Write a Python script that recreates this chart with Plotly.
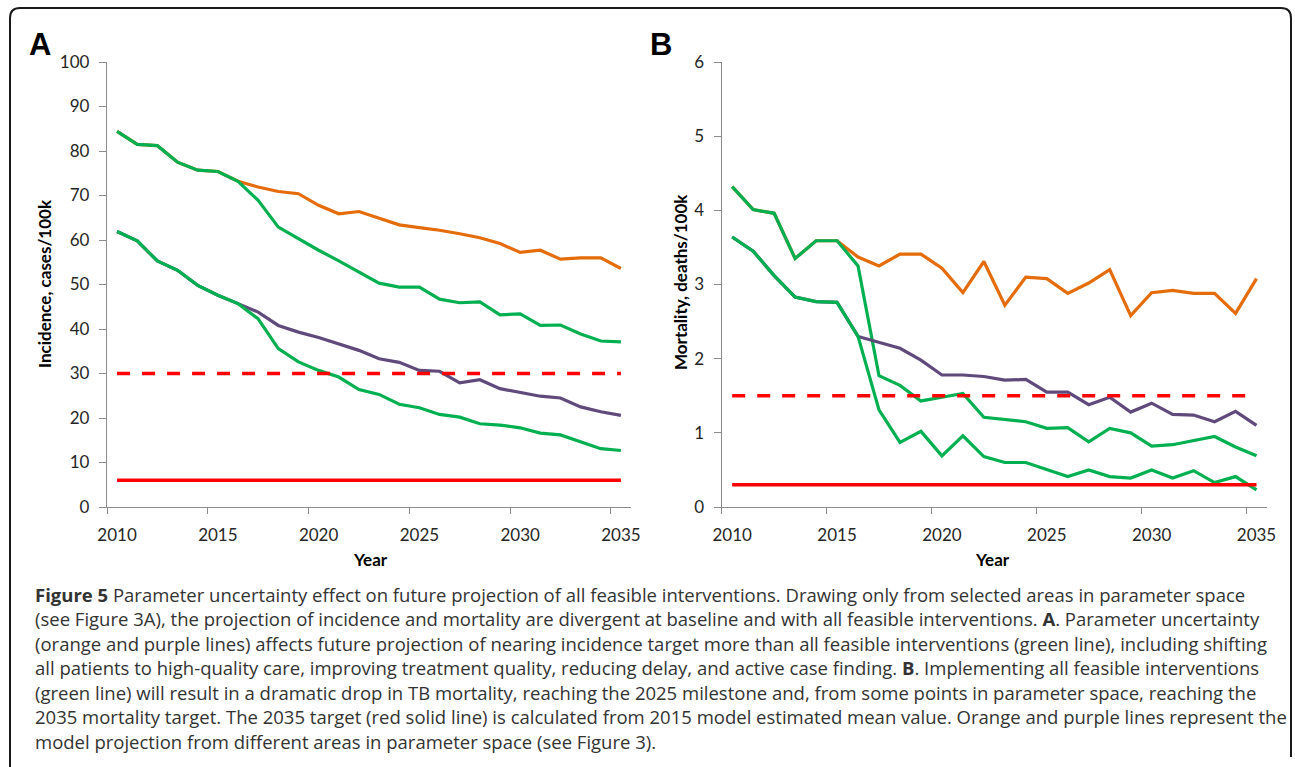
import plotly.graph_objects as go

years = list(range(2010, 2036))

# Panel A: incidence, cases/100k
inc_green_upper = [84.4, 81.5, 81.2, 77.5, 75.7, 75.4, 73.2, 68.9, 62.9, 60.2, 57.7, 55.3, 52.8, 50.3,
                   49.4, 49.4, 46.7, 45.9, 46.1, 43.2, 43.4, 40.8, 40.9, 38.9, 37.3, 37.1]
inc_orange = [84.4, 81.5, 81.2, 77.5, 75.7, 75.4, 73.2, 71.9, 70.9, 70.4, 67.8, 65.9, 66.4, 64.9,
              63.4, 62.8, 62.2, 61.4, 60.5, 59.2, 57.2, 57.7, 55.7, 56.0, 56.0, 53.6]
inc_green_lower = [61.9, 59.8, 55.3, 53.2, 49.8, 47.6, 45.7, 42.3, 35.6, 32.6, 30.7, 29.2, 26.4, 25.3,
                   23.1, 22.3, 20.8, 20.2, 18.7, 18.4, 17.8, 16.6, 16.2, 14.6, 13.1, 12.7]
inc_purple = [61.9, 59.8, 55.3, 53.2, 49.8, 47.6, 45.7, 43.8, 40.8, 39.3, 38.1, 36.7, 35.2, 33.3,
              32.5, 30.7, 30.5, 27.9, 28.6, 26.6, 25.8, 24.9, 24.5, 22.5, 21.4, 20.6]
inc_milestone_2025 = [30, 30]
inc_target_2035 = [6, 6]

# Panel B: mortality, deaths/100k
mort_green_upper = [4.32, 4.01, 3.96, 3.35, 3.59, 3.59, 3.25, 1.77, 1.64, 1.43, 1.48, 1.53, 1.21, 1.18,
                    1.15, 1.06, 1.07, 0.88, 1.06, 1.00, 0.82, 0.84, 0.89, 0.95, 0.81, 0.69]
mort_orange = [4.32, 4.01, 3.96, 3.35, 3.59, 3.59, 3.37, 3.25, 3.41, 3.41, 3.22, 2.89, 3.31, 2.72,
               3.10, 3.08, 2.88, 3.02, 3.20, 2.58, 2.89, 2.92, 2.88, 2.88, 2.61, 3.08]
mort_green_lower = [3.64, 3.45, 3.12, 2.83, 2.77, 2.76, 2.30, 1.31, 0.87, 1.02, 0.69, 0.96, 0.68, 0.60,
                    0.60, 0.51, 0.41, 0.50, 0.41, 0.39, 0.50, 0.39, 0.49, 0.33, 0.41, 0.23]
mort_purple = [3.64, 3.45, 3.12, 2.83, 2.77, 2.76, 2.30, 2.22, 2.14, 1.98, 1.78, 1.78, 1.76, 1.71,
               1.72, 1.55, 1.55, 1.38, 1.48, 1.28, 1.40, 1.25, 1.24, 1.15, 1.29, 1.10]
mort_milestone_2025 = [1.5, 1.5]
mort_target_2035 = [0.3, 0.3]
target_years = [2010, 2035]

x_tick_labels = ["2010", "2015", "2020", "2025", "2030", "2035"]
y_ticks_a = [0, 10, 20, 30, 40, 50, 60, 70, 80, 90, 100]
y_ticks_b = [0, 1, 2, 3, 4, 5, 6]

caption_lines = [
    "<b>Figure 5</b> Parameter uncertainty effect on future projection of all feasible interventions. Drawing only from selected areas in parameter space",
    "(see Figure 3A), the projection of incidence and mortality are divergent at baseline and with all feasible interventions. <b>A</b>. Parameter uncertainty",
    "(orange and purple lines) affects future projection of nearing incidence target more than all feasible interventions (green line), including shifting",
    "all patients to high-quality care, improving treatment quality, reducing delay, and active case finding. <b>B</b>. Implementing all feasible interventions",
    "(green line) will result in a dramatic drop in TB mortality, reaching the 2025 milestone and, from some points in parameter space, reaching the",
    "2035 mortality target. The 2035 target (red solid line) is calculated from 2015 model estimated mean value. Orange and purple lines represent the",
    "model projection from different areas in parameter space (see Figure 3).",
]

W, H = 1295, 767
GREEN = "#00B050"
ORANGE = "#E46C0A"
PURPLE = "#604A7B"
RED = "#FF0000"
AXIS = "#8C8C8C"
TXT = "#262626"


def px(x):
    return x / W


def py(y):
    return 1 - y / H


fig = go.Figure()


def add_panel(xa, ya, orange, green_up, purple, green_low, milestone, target):
    for vals, col in [(orange, ORANGE), (green_up, GREEN), (purple, PURPLE), (green_low, GREEN)]:
        fig.add_trace(go.Scatter(x=years, y=vals, mode="lines", xaxis=xa, yaxis=ya,
                                 line=dict(color=col, width=3.2), hoverinfo="skip", showlegend=False))
    fig.add_trace(go.Scatter(x=target_years, y=milestone, mode="lines", xaxis=xa, yaxis=ya,
                             line=dict(color=RED, width=3.5, dash="13px,12px"), showlegend=False))
    fig.add_trace(go.Scatter(x=target_years, y=target, mode="lines", xaxis=xa, yaxis=ya,
                             line=dict(color=RED, width=3.5), showlegend=False))


add_panel("x", "y", inc_orange, inc_green_upper, inc_purple, inc_green_lower,
          inc_milestone_2025, inc_target_2035)
add_panel("x2", "y2", mort_orange, mort_green_upper, mort_purple, mort_green_lower,
          mort_milestone_2025, mort_target_2035)

tick_font = dict(family="Lato, Open Sans, sans-serif", size=17, color=TXT)


def xaxis_cfg(x0, x1):
    return dict(
        domain=[px(x0), px(x1)], range=[2009.5, 2035.5],
        tickmode="array", tickvals=[int(t) for t in x_tick_labels], ticktext=x_tick_labels,
        ticks="", showline=True, linecolor=AXIS, linewidth=1.3, showgrid=False, zeroline=False,
        tickfont=tick_font, ticklabelstandoff=12, automargin=False,
        minor=dict(tickmode="array", tickvals=[2009.5, 2014.5, 2019.5, 2024.5, 2029.5, 2034.5],
                   ticks="outside", ticklen=6, tickcolor=AXIS, tickwidth=1.3, showgrid=False),
    )


def yaxis_cfg(rng, tv, anchor):
    return dict(
        domain=[py(507), py(62)], range=rng, tickmode="array", tickvals=tv,
        ticks="outside", ticklen=7, tickcolor=AXIS, tickwidth=1.3,
        showline=True, linecolor=AXIS, linewidth=1.3, showgrid=False, zeroline=False,
        tickfont=tick_font, ticklabelstandoff=6, anchor=anchor, automargin=False,
    )


fig.update_layout(
    width=W, height=H, margin=dict(l=0, r=0, t=0, b=0, pad=0, autoexpand=False),
    paper_bgcolor="white", plot_bgcolor="white", showlegend=False,
    xaxis=dict(xaxis_cfg(107, 631), anchor="y"),
    yaxis=yaxis_cfg([0, 100], y_ticks_a, "x"),
    xaxis2=dict(xaxis_cfg(721.7, 1267), anchor="y2"),
    yaxis2=yaxis_cfg([0, 6], y_ticks_b, "x2"),
)

ann = []
label_font = dict(family="Liberation Sans, Arial, sans-serif", size=31, color="black")
ann.append(dict(text="<b>A</b>", x=px(40), y=py(44), xref="paper", yref="paper",
                showarrow=False, font=label_font, xanchor="center", yanchor="middle"))
ann.append(dict(text="<b>B</b>", x=px(661), y=py(44), xref="paper", yref="paper",
                showarrow=False, font=label_font, xanchor="center", yanchor="middle"))
title_font = dict(family="Lato, Open Sans, sans-serif", size=17, color="black")
ann.append(dict(text="<b>Incidence, cases/100k</b>", x=px(45), y=py(284), xref="paper", yref="paper",
                showarrow=False, font=title_font, textangle=-90, xanchor="center", yanchor="middle"))
ann.append(dict(text="<b>Mortality, deaths/100k</b>", x=px(680), y=py(282), xref="paper", yref="paper",
                showarrow=False, font=title_font, textangle=-90, xanchor="center", yanchor="middle"))
ann.append(dict(text="<b>Year</b>", x=px(370), y=py(559), xref="paper", yref="paper",
                showarrow=False, font=title_font, xanchor="center", yanchor="middle"))
ann.append(dict(text="<b>Year</b>", x=px(993), y=py(559), xref="paper", yref="paper",
                showarrow=False, font=title_font, xanchor="center", yanchor="middle"))

cap_font = dict(family="Open Sans, sans-serif", size=18.5, color="#333333")
for i, line in enumerate(caption_lines):
    ann.append(dict(text=line, x=px(33), y=py(594 + i * 24.5), xref="paper", yref="paper",
                    showarrow=False, font=cap_font, xanchor="left", yanchor="middle", align="left"))
fig.update_layout(annotations=ann)

# rounded figure frame
r = 10
L, T, R, B = 10, 8, 1291, 767
path = (f"M {px(L)},{py(B)} L {px(L)},{py(T + r)} Q {px(L)},{py(T)} {px(L + r)},{py(T)} "
        f"L {px(R - r)},{py(T)} Q {px(R)},{py(T)} {px(R)},{py(T + r)} L {px(R)},{py(757)}")
fig.add_shape(type="path", path=path, xref="paper", yref="paper",
              line=dict(color="#1a1a1a", width=2))

fig.write_html(
    "out.html",
    config={"displayModeBar": False},
    post_script="document.body.style.margin='0';document.body.style.padding='0';"
                "document.body.style.overflow='hidden';",
)
